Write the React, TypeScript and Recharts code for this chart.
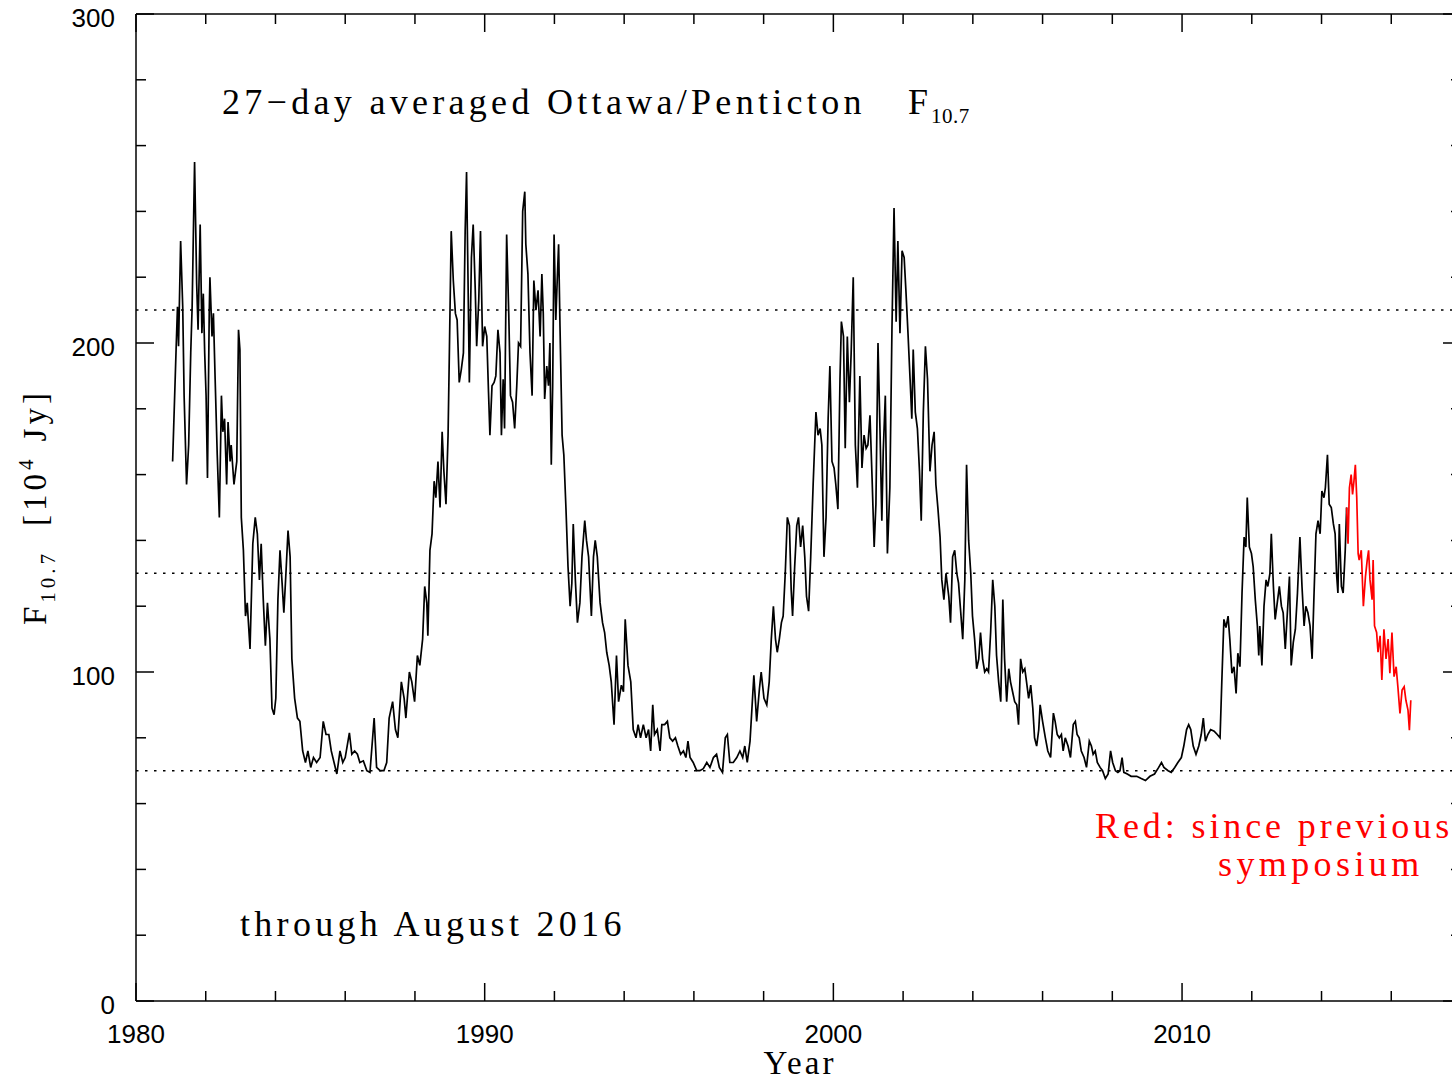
import React from 'react';
import { ComposedChart, Line, XAxis, YAxis, ReferenceLine } from 'recharts';

// [decimal year, 27-day mean F10.7 in 10^4 Jy]
const span1981to1987: [number, number][] = [
  [1981.05, 164], [1981.15, 198], [1981.19, 211], [1981.22, 199], [1981.28, 231], [1981.34, 211],
  [1981.38, 184], [1981.45, 157], [1981.51, 169], [1981.57, 197], [1981.61, 211], [1981.68, 255],
  [1981.74, 218], [1981.78, 204], [1981.84, 236], [1981.89, 203], [1981.93, 215], [1981.97, 197],
  [1982.01, 184], [1982.05, 159], [1982.1, 209], [1982.12, 220], [1982.18, 202], [1982.22, 209],
  [1982.27, 189], [1982.33, 166], [1982.39, 147], [1982.45, 184], [1982.49, 173], [1982.54, 177],
  [1982.6, 157], [1982.64, 176], [1982.7, 164], [1982.73, 169], [1982.81, 157], [1982.89, 164],
  [1982.94, 204], [1982.98, 198], [1983.02, 147], [1983.08, 137], [1983.14, 117], [1983.19, 121],
  [1983.27, 107], [1983.35, 139], [1983.42, 147], [1983.48, 142], [1983.54, 128], [1983.59, 139],
  [1983.65, 122], [1983.71, 108], [1983.77, 121], [1983.84, 110], [1983.9, 89], [1983.96, 87],
  [1984.01, 92], [1984.07, 122], [1984.13, 137], [1984.19, 127], [1984.24, 118], [1984.3, 130],
  [1984.36, 143], [1984.42, 135], [1984.47, 104], [1984.55, 92], [1984.63, 86], [1984.7, 85],
  [1984.78, 76], [1984.86, 72.5], [1984.93, 76], [1985.01, 71], [1985.09, 74], [1985.18, 72.5],
  [1985.28, 74], [1985.37, 85], [1985.45, 81], [1985.53, 81], [1985.6, 76], [1985.68, 72.5],
  [1985.76, 69], [1985.85, 76], [1985.93, 72.5], [1986.0, 74], [1986.12, 81.5], [1986.19, 75],
  [1986.27, 76], [1986.35, 75], [1986.42, 72.5], [1986.52, 73], [1986.62, 70], [1986.71, 69.5],
  [1986.83, 86], [1986.9, 71], [1987.0, 70], [1987.11, 70],
];

const span1987to1993: [number, number][] = [
  [1987.19, 72.5], [1987.26, 86], [1987.36, 91], [1987.44, 82.5], [1987.51, 80], [1987.61, 97],
  [1987.69, 92], [1987.74, 86], [1987.84, 100], [1987.91, 97], [1987.99, 91], [1988.07, 105],
  [1988.14, 102], [1988.22, 110], [1988.28, 126], [1988.34, 121], [1988.37, 111], [1988.43, 137],
  [1988.49, 142], [1988.55, 158], [1988.6, 153], [1988.66, 164], [1988.72, 150], [1988.78, 173],
  [1988.83, 161], [1988.89, 151], [1988.95, 172], [1988.99, 199], [1989.04, 234], [1989.1, 219],
  [1989.16, 209], [1989.21, 207], [1989.27, 188], [1989.33, 192], [1989.39, 197], [1989.44, 234],
  [1989.48, 252], [1989.52, 221], [1989.56, 188], [1989.62, 226], [1989.67, 236], [1989.73, 216],
  [1989.77, 199], [1989.83, 213], [1989.88, 234], [1989.94, 199], [1990.0, 205], [1990.06, 202],
  [1990.11, 185], [1990.15, 172], [1990.21, 187], [1990.27, 188], [1990.32, 190], [1990.38, 204],
  [1990.44, 197], [1990.48, 172], [1990.53, 189], [1990.57, 174], [1990.63, 233], [1990.69, 209],
  [1990.74, 184], [1990.8, 182], [1990.86, 174], [1990.92, 187], [1990.97, 200], [1991.03, 199],
  [1991.09, 240], [1991.15, 246], [1991.18, 230], [1991.24, 221], [1991.3, 197], [1991.36, 184],
  [1991.41, 219], [1991.47, 210], [1991.53, 216], [1991.59, 202], [1991.64, 221], [1991.68, 209],
  [1991.72, 183], [1991.78, 193], [1991.83, 187], [1991.87, 200], [1991.91, 163], [1991.95, 187],
  [1991.99, 233], [1992.04, 207], [1992.08, 219], [1992.12, 230], [1992.16, 205], [1992.22, 172],
  [1992.27, 166], [1992.33, 150], [1992.39, 132], [1992.45, 120], [1992.5, 127], [1992.54, 145],
  [1992.6, 128], [1992.66, 115], [1992.73, 121], [1992.79, 135], [1992.87, 146], [1992.92, 140],
  [1992.98, 135], [1993.06, 117], [1993.12, 135], [1993.17, 140], [1993.23, 135],
];

const span1993to1999: [number, number][] = [
  [1993.31, 121], [1993.38, 115], [1993.44, 112], [1993.5, 106], [1993.57, 102], [1993.63, 97],
  [1993.71, 84], [1993.78, 105], [1993.84, 91], [1993.92, 96], [1993.98, 94], [1994.03, 116],
  [1994.11, 102], [1994.19, 97], [1994.26, 82.5], [1994.34, 80], [1994.4, 84], [1994.47, 80],
  [1994.55, 84], [1994.63, 80], [1994.7, 82.5], [1994.76, 76], [1994.82, 90], [1994.87, 81],
  [1994.95, 82.5], [1995.03, 76], [1995.08, 84], [1995.16, 84], [1995.24, 85], [1995.31, 80],
  [1995.39, 79], [1995.47, 80], [1995.54, 77.5], [1995.62, 75], [1995.7, 76], [1995.77, 74],
  [1995.83, 79], [1995.89, 74], [1995.98, 72.5], [1996.08, 70], [1996.17, 70], [1996.27, 70.6],
  [1996.37, 72.5], [1996.46, 71], [1996.56, 74], [1996.65, 75], [1996.73, 71], [1996.82, 69.5],
  [1996.9, 80], [1996.96, 81], [1997.03, 72.5], [1997.13, 72.5], [1997.23, 74], [1997.32, 76],
  [1997.4, 74], [1997.46, 77.5], [1997.53, 72.5], [1997.61, 79], [1997.72, 99], [1997.8, 85],
  [1997.88, 95], [1997.93, 100], [1998.01, 92], [1998.09, 90], [1998.16, 97], [1998.22, 110],
  [1998.28, 120], [1998.34, 110], [1998.39, 106], [1998.45, 110], [1998.51, 115], [1998.56, 117],
  [1998.62, 130], [1998.68, 147], [1998.74, 144.5], [1998.79, 125], [1998.83, 117], [1998.89, 132],
  [1998.95, 144.5], [1999.0, 147], [1999.06, 138], [1999.12, 144.5], [1999.18, 135], [1999.23, 123],
  [1999.29, 118.5], [1999.35, 135], [1999.42, 157], [1999.5, 179], [1999.56, 172],
];

const span1999to2005: [number, number][] = [
  [1999.62, 174], [1999.67, 169], [1999.73, 135], [1999.79, 147], [1999.85, 177], [1999.9, 193],
  [1999.96, 164], [2000.02, 162], [2000.07, 157], [2000.13, 149.5], [2000.19, 189], [2000.23, 206.5],
  [2000.29, 202], [2000.34, 168], [2000.4, 202], [2000.46, 182], [2000.51, 197], [2000.57, 220],
  [2000.63, 169], [2000.69, 156], [2000.76, 190], [2000.82, 162], [2000.88, 172], [2000.94, 168],
  [2000.99, 169], [2001.05, 178], [2001.11, 159], [2001.17, 138], [2001.22, 151], [2001.28, 200],
  [2001.34, 172], [2001.39, 146], [2001.43, 167], [2001.49, 184], [2001.55, 136], [2001.62, 156],
  [2001.68, 204], [2001.74, 241], [2001.8, 206.5], [2001.85, 231], [2001.91, 203], [2001.97, 228],
  [2002.03, 226], [2002.08, 216], [2002.14, 203], [2002.2, 189], [2002.25, 177], [2002.29, 198],
  [2002.35, 179], [2002.41, 174], [2002.47, 161], [2002.52, 146], [2002.58, 179], [2002.64, 199],
  [2002.7, 189], [2002.77, 161], [2002.83, 169], [2002.89, 173], [2002.94, 157], [2003.0, 149.5],
  [2003.06, 141], [2003.11, 128], [2003.17, 122], [2003.23, 130], [2003.31, 123], [2003.36, 115],
  [2003.42, 135], [2003.48, 137], [2003.54, 130], [2003.59, 127], [2003.65, 118.5], [2003.71, 110],
  [2003.77, 128], [2003.82, 163], [2003.88, 140], [2003.94, 130], [2003.99, 117], [2004.05, 110],
  [2004.11, 101], [2004.17, 104], [2004.22, 112], [2004.28, 104], [2004.34, 100], [2004.4, 101],
  [2004.45, 100], [2004.51, 112], [2004.57, 128], [2004.63, 120], [2004.68, 105], [2004.74, 97],
  [2004.8, 91], [2004.86, 122], [2004.91, 104], [2004.97, 91], [2005.03, 101], [2005.08, 97],
  [2005.14, 94], [2005.2, 91], [2005.26, 90], [2005.31, 84], [2005.37, 104], [2005.43, 100],
  [2005.49, 101], [2005.54, 97], [2005.6, 92], [2005.66, 96], [2005.72, 89], [2005.77, 80],
  [2005.83, 77.5], [2005.89, 82.5],
];

const span2006to2011: [number, number][] = [
  [2005.93, 90], [2006.0, 85], [2006.08, 80], [2006.15, 76], [2006.23, 74], [2006.31, 87.5],
  [2006.36, 85], [2006.42, 81], [2006.48, 80], [2006.54, 81], [2006.59, 76], [2006.65, 80],
  [2006.73, 77.5], [2006.8, 74], [2006.88, 84], [2006.94, 85], [2006.99, 81], [2007.05, 80],
  [2007.11, 76], [2007.19, 74], [2007.26, 71], [2007.34, 79], [2007.4, 77.5], [2007.45, 75],
  [2007.51, 76], [2007.57, 72.5], [2007.65, 71], [2007.72, 70], [2007.8, 67.6], [2007.88, 69],
  [2007.95, 76], [2008.01, 72.5], [2008.09, 70], [2008.16, 69.5], [2008.22, 70], [2008.28, 74],
  [2008.33, 69.5], [2008.43, 69], [2008.54, 68.3], [2008.7, 68.3], [2008.83, 67.6], [2008.95, 67],
  [2009.08, 68.3], [2009.21, 69], [2009.33, 71], [2009.41, 72.5], [2009.48, 71], [2009.6, 70],
  [2009.69, 69.5], [2009.79, 71], [2009.88, 72.5], [2009.98, 74], [2010.05, 77.5], [2010.13, 82.5],
  [2010.19, 84], [2010.25, 82.5], [2010.32, 77.5], [2010.4, 75], [2010.48, 77.5], [2010.55, 81],
  [2010.61, 86], [2010.67, 79], [2010.74, 81], [2010.82, 82.5], [2010.92, 82], [2011.01, 81],
  [2011.09, 80], [2011.14, 97], [2011.2, 116], [2011.26, 113.5], [2011.32, 117], [2011.37, 110],
];

const span2011to2014: [number, number][] = [
  [2011.43, 99.6], [2011.49, 101.6], [2011.55, 93.5], [2011.6, 105.7], [2011.66, 101.6], [2011.72, 124],
  [2011.78, 141], [2011.83, 138], [2011.87, 153], [2011.93, 138], [2011.99, 136], [2012.04, 132],
  [2012.1, 122], [2012.16, 114], [2012.2, 105], [2012.23, 114], [2012.29, 102], [2012.35, 120],
  [2012.41, 128], [2012.46, 126], [2012.52, 130], [2012.56, 142], [2012.62, 126], [2012.67, 116],
  [2012.73, 121], [2012.79, 126], [2012.85, 120], [2012.9, 118], [2012.96, 107], [2013.02, 118],
  [2013.08, 129], [2013.13, 102], [2013.19, 109], [2013.25, 113], [2013.31, 124], [2013.38, 141],
  [2013.44, 126], [2013.5, 114], [2013.55, 120], [2013.61, 118], [2013.67, 114], [2013.73, 104],
  [2013.78, 122], [2013.84, 142], [2013.9, 146], [2013.96, 142], [2014.01, 155], [2014.07, 153],
  [2014.11, 156], [2014.17, 166], [2014.22, 151], [2014.28, 150], [2014.34, 145], [2014.39, 142],
  [2014.43, 130], [2014.47, 124], [2014.51, 145], [2014.57, 126], [2014.62, 124], [2014.68, 137],
  [2014.72, 150],
];

// drawn in red
const sinceSymposium: [number, number][] = [
  [2014.72, 150], [2014.76, 139], [2014.8, 156], [2014.85, 160], [2014.89, 154], [2014.93, 158],
  [2014.97, 163], [2015.01, 153], [2015.05, 136], [2015.08, 134], [2015.14, 137], [2015.2, 120],
  [2015.26, 129], [2015.31, 134], [2015.35, 137], [2015.39, 128], [2015.45, 122], [2015.48, 134],
  [2015.52, 114], [2015.58, 112], [2015.62, 106], [2015.68, 111], [2015.73, 97.6], [2015.79, 113],
  [2015.85, 104], [2015.91, 110], [2015.96, 99.6], [2016.02, 112], [2016.08, 98.6], [2016.14, 101.6],
  [2016.19, 95.5], [2016.25, 87.4], [2016.31, 94.5], [2016.37, 95.5], [2016.42, 91.4], [2016.48, 88.4],
  [2016.52, 82.3], [2016.56, 91.4],
];

const yearTicks = [1980, 1982, 1984, 1986, 1988, 1990, 1992, 1994, 1996, 1998, 2000, 2002, 2004, 2006, 2008, 2010, 2012, 2014, 2016, 2018];
const yearLabels = [1980, 1990, 2000, 2010];
const fluxTicks = [0, 20, 40, 60, 80, 100, 120, 140, 160, 180, 200, 220, 240, 260, 280, 300];
const fluxLabels = [0, 100, 200, 300];
const guideLevels = [210, 130, 70];

const toPoints = (rows: [number, number][]) => rows.map(([year, flux]) => ({ year, flux }));
const blackData = toPoints([
  ...span1981to1987, ...span1987to1993, ...span1993to1999,
  ...span1999to2005, ...span2006to2011, ...span2011to2014,
]);
const redData = toPoints(sinceSymposium);

const MAJOR = 18;
const MINOR = 10;
const serif = '"Liberation Serif", "DejaVu Serif", serif';
const sans = '"Liberation Sans", Arial, sans-serif';

const BottomTick = ({ x, y, payload }: any) => {
  const major = yearLabels.includes(payload.value);
  return (
    <g>
      <line x1={x} y1={y} x2={x} y2={y - (major ? MAJOR : MINOR)} stroke="#000" strokeWidth={1.5} />
      {major && (
        <text x={x} y={y + 42} textAnchor="middle" fontSize={26} fontFamily={sans} fill="#000">
          {payload.value}
        </text>
      )}
    </g>
  );
};

const TopTick = ({ x, y, payload }: any) => {
  const major = yearLabels.includes(payload.value);
  return <line x1={x} y1={y} x2={x} y2={y + (major ? MAJOR : MINOR)} stroke="#000" strokeWidth={1.5} />;
};

const LeftTick = ({ x, y, payload }: any) => {
  const major = fluxLabels.includes(payload.value);
  return (
    <g>
      <line x1={x} y1={y} x2={x + (major ? MAJOR : MINOR)} y2={y} stroke="#000" strokeWidth={1.5} />
      {major && (
        <text x={x - 21} y={y + 13} textAnchor="end" fontSize={26} fontFamily={sans} fill="#000">
          {payload.value}
        </text>
      )}
    </g>
  );
};

const RightTick = ({ x, y, payload }: any) => {
  const major = fluxLabels.includes(payload.value);
  return <line x1={x} y1={y} x2={x - (major ? MAJOR : MINOR)} y2={y} stroke="#000" strokeWidth={1.5} />;
};

export default function App() {
  return (
    <div style={{ position: 'fixed', left: 0, top: 0, width: 1452, height: 1083, overflow: 'hidden', background: '#fff' }}>
      <div style={{ position: 'relative', width: 1500, height: 1083 }}>
        <ComposedChart width={1500} height={1083} margin={{ top: 0, right: 0, bottom: 0, left: 0 }}>
          <XAxis
            xAxisId="b" dataKey="year" type="number" domain={[1980, 2018]} ticks={yearTicks}
            interval={0} height={82} tickSize={0} tickMargin={0} tickLine={false}
            axisLine={{ stroke: '#000', strokeWidth: 1.5 }} tick={(p: any) => <BottomTick {...p} />}
            allowDataOverflow
          />
          <XAxis
            xAxisId="t" orientation="top" dataKey="year" type="number" domain={[1980, 2018]} ticks={yearTicks}
            interval={0} height={14} tickSize={0} tickMargin={0} tickLine={false}
            axisLine={{ stroke: '#000', strokeWidth: 1.5 }} tick={(p: any) => <TopTick {...p} />}
            allowDataOverflow
          />
          <YAxis
            yAxisId="l" type="number" domain={[0, 300]} ticks={fluxTicks} interval={0} width={136}
            tickSize={0} tickMargin={0} tickLine={false}
            axisLine={{ stroke: '#000', strokeWidth: 1.5 }} tick={(p: any) => <LeftTick {...p} />}
            allowDataOverflow
          />
          <YAxis
            yAxisId="r" orientation="right" type="number" domain={[0, 300]} ticks={fluxTicks} interval={0} width={39}
            tickSize={0} tickMargin={0} tickLine={false}
            axisLine={{ stroke: '#000', strokeWidth: 1.5 }} tick={(p: any) => <RightTick {...p} />}
            allowDataOverflow
          />
          {guideLevels.map((lvl) => (
            <ReferenceLine
              key={lvl} y={lvl} xAxisId="b" yAxisId="l"
              stroke="#000" strokeWidth={1.5} strokeDasharray="2.5 6.5"
            />
          ))}
          <Line
            data={blackData} dataKey="flux" xAxisId="b" yAxisId="l" type="linear"
            stroke="#000" strokeWidth={1.7} dot={false} activeDot={false} isAnimationActive={false}
          />
          <Line
            data={redData} dataKey="flux" xAxisId="b" yAxisId="l" type="linear"
            stroke="#ff0000" strokeWidth={1.7} dot={false} activeDot={false} isAnimationActive={false}
          />
        </ComposedChart>

        <svg width={1500} height={1083} style={{ position: 'absolute', left: 0, top: 0, pointerEvents: 'none' }}>
          <g fontFamily={serif} fill="#000">
            <text x={222} y={114} fontSize={36} letterSpacing={4.3}>27−day averaged Ottawa/Penticton</text>
            <text x={908} y={114} fontSize={36}>F</text>
            <text x={931} y={123} fontSize={21} letterSpacing={0.5}>10.7</text>

            <text x={240} y={936} fontSize={36} letterSpacing={4.3}>through August 2016</text>

            <text x={800} y={1074} fontSize={33} letterSpacing={3}>
              <tspan textAnchor="middle">Year</tspan>
            </text>

            <text transform="translate(46,625) rotate(-90)" fontSize={33} letterSpacing={4}>
              F
              <tspan fontSize={21} dy={9}>10.7</tspan>
              <tspan dy={-9} dx={24}>[10</tspan>
              <tspan fontSize={21} dy={-13}>4</tspan>
              <tspan dy={13} dx={14}>Jy]</tspan>
            </text>
          </g>
          <g fontFamily={serif} fill="#ff0000" fontSize={36}>
            <text x={1095} y={838} letterSpacing={3.9}>Red: since previous</text>
            <text x={1218} y={876} letterSpacing={4.4}>symposium</text>
          </g>
        </svg>
      </div>
    </div>
  );
}
